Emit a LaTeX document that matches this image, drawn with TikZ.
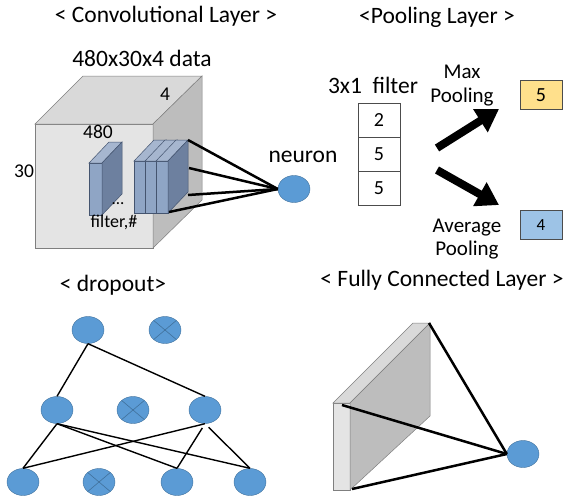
\documentclass[tikz,border=0pt]{standalone}
\usepackage{fontspec}
\setmainfont{Carlito}
\usetikzlibrary{shapes.geometric,arrows.meta}

\definecolor{nblue}{HTML}{5B9BD5}
\definecolor{nedge}{HTML}{41719C}
\definecolor{cubefront}{HTML}{E4E4E4}
\definecolor{cubetop}{HTML}{D9D9D9}
\definecolor{cubeside}{HTML}{BDBDBD}
\definecolor{cubeedge}{HTML}{7F7F7F}
\definecolor{slabfront}{HTML}{8FA5C5}
\definecolor{slabtop}{HTML}{A6B6CF}
\definecolor{slabside}{HTML}{6D809F}
\definecolor{slabedge}{HTML}{44546F}
\definecolor{maxfill}{HTML}{FFE08C}
\definecolor{avgfill}{HTML}{9DC3E6}

% one filter slab: left x, top y, width, height (depth offset fixed)
\newcommand\fslab[4]{%
  \filldraw[draw=slabedge, fill=slabfront, line width=0.5pt] (#1,#2) rectangle ++(#3,#4);
  \filldraw[draw=slabedge, fill=slabtop, line width=0.5pt] (#1,#2) -- ++(20,-21) -- ++(#3,0) -- ++(-20,21) -- cycle;
  \filldraw[draw=slabedge, fill=slabside, line width=0.5pt] (#1+#3,#2) -- ++(20,-21) -- ++(0,#4) -- ++(-20,21) -- cycle;
}

\begin{document}
\begin{tikzpicture}[x=1pt, y=-1pt,
  title/.style={font=\fontsize{23.5}{26}\selectfont, inner sep=0},
  small/.style={font=\fontsize{19.5}{22}\selectfont, inner sep=0},
  neuron/.style={ellipse, fill=nblue, draw=nedge, line width=0.4pt,
    minimum width=32pt, minimum height=27pt, inner sep=0},
  dropped/.style={neuron, path picture={
    \draw[nedge, line width=0.6pt]
      (path picture bounding box.north west) -- (path picture bounding box.south east)
      (path picture bounding box.south west) -- (path picture bounding box.north east);}},
  cell/.style={draw=black!70, line width=0.6pt, minimum width=42pt, minimum height=34pt,
    inner sep=0, font=\fontsize{20}{22}\selectfont},
  result/.style={draw=black!70, line width=0.6pt, minimum width=42pt, minimum height=29pt,
    inner sep=0, font=\fontsize{20}{22}\selectfont},
  poolname/.style={font=\fontsize{21}{24}\selectfont, inner sep=0},
  conn/.style={line width=2.5pt, black},
  dlink/.style={line width=1.4pt, black},
  bigarrow/.style={line width=8pt, -{Triangle[length=22pt, width=26pt]}},
  face/.style={draw=cubeedge, line width=0.5pt}
]
\useasboundingbox (0,0) rectangle (565,499);

% ---------------- convolutional layer ----------------
\node[title] (tconv) at (166,16) {< Convolutional Layer >};
\node[title] (tdata) at (142,58) {480x30x4 data};

\filldraw[face, fill=cubefront] (35,124) rectangle (153,248);
\filldraw[face, fill=cubetop] (35,124) -- (83,76) -- (202,76) -- (153,124) -- cycle;
\filldraw[face, fill=cubeside] (153,124) -- (202,76) -- (202,200) -- (153,248) -- cycle;

\node[small] (ldepth) at (165,94) {4};
\node[small] (lwidth) at (98,132) {480};
\node[small] (lheight) at (24,171) {30};

% single filter and a stack of filters
\fslab{89}{163}{13}{52}
\fslab{134}{161}{12}{52}
\fslab{145}{161}{12}{52}
\fslab{156}{161}{12}{52}

\node[font=\fontsize{17}{19}\selectfont, inner sep=0] (dots) at (118,204) {...};
\node[font=\fontsize{18}{20}\selectfont, inner sep=0] (lfilter) at (114,222) {filter,\#};

\node[neuron] (nconv) at (294,189) {};
\node[title] (lneuron) at (303,157) {neuron};

\coordinate (s1) at (188,140);
\coordinate (s2) at (189,168);
\coordinate (s3) at (188,195);
\coordinate (s4) at (169,212);
\foreach \c in {s1,s2,s3,s4} \draw[conn] (\c) -- (nconv.west);

% ---------------- pooling layer ----------------
\node[title] (tpool) at (437,17) {<Pooling Layer >};
\node[title] (lwin) at (373,85) {3x1~~filter};

\node[cell] (c1) at (379,120) {2};
\node[cell] (c2) at (379,154) {5};
\node[cell] (c3) at (379,188) {5};

\node[poolname] (lmax1) at (462,72) {Max};
\node[poolname] (lmax2) at (462,97) {Pooling};
\node[poolname] (lavg1) at (467,228) {Average};
\node[poolname] (lavg2) at (467,250) {Pooling};

\node[result, fill=maxfill] (rmax) at (541,95) {5};
\node[result, fill=avgfill, font=\fontsize{17}{19}\selectfont] (ravg) at (541,225) {4};

\coordinate (a1s) at (437,148);
\coordinate (a1e) at (499,109);
\coordinate (a2s) at (437,170);
\coordinate (a2e) at (499,205);
\draw[bigarrow] (a1s) -- (a1e);
\draw[bigarrow] (a2s) -- (a2e);

% ---------------- dropout ----------------
\node[title] (tdrop) at (113,285) {< dropout>};

\node[neuron] (t1) at (88,330) {};
\node[dropped] (t2) at (165,330) {};
\node[neuron] (m1) at (57,410) {};
\node[dropped] (m2) at (133,410) {};
\node[neuron] (m3) at (205,410) {};
\node[neuron] (b1) at (23,482) {};
\node[dropped] (b2) at (99,482) {};
\node[neuron] (b3) at (177,482) {};
\node[neuron] (b4) at (250,482) {};

\draw[dlink] (t1.south) -- (m1.north);
\draw[dlink] (t1.south) -- (m3.north);
\draw[dlink] (m1.south) -- (b1.north);
\draw[dlink] (m1.south) -- (b3.north);
\draw[dlink] (m1.south) -- (b4.north);
\draw[dlink] (m3.south) -- (b1.north);
\draw[dlink, shorten <=5pt] (m3.south) -- (b3.north);
\draw[dlink, shorten <=5pt] (m3.south) -- (b4.north);

% ---------------- fully connected layer ----------------
\node[title] (tfc) at (442,280) {< Fully Connected Layer >};

\filldraw[face, fill=cubefront] (333,403) rectangle (350,490);
\filldraw[face, fill=cubefront!95!black] (333,403) -- (413,323) -- (430,323) -- (350,403) -- cycle;
\filldraw[face, fill=cubeside] (350,403) -- (430,323) -- (430,416) -- (350,490) -- cycle;

\node[neuron] (nfc) at (523,454) {};
\coordinate (f1) at (429,323);
\coordinate (f2) at (342,405);
\coordinate (f3) at (352,489);
\foreach \c in {f1,f2,f3} \draw[conn] (\c) -- (nfc.west);

\end{tikzpicture}
\end{document}
